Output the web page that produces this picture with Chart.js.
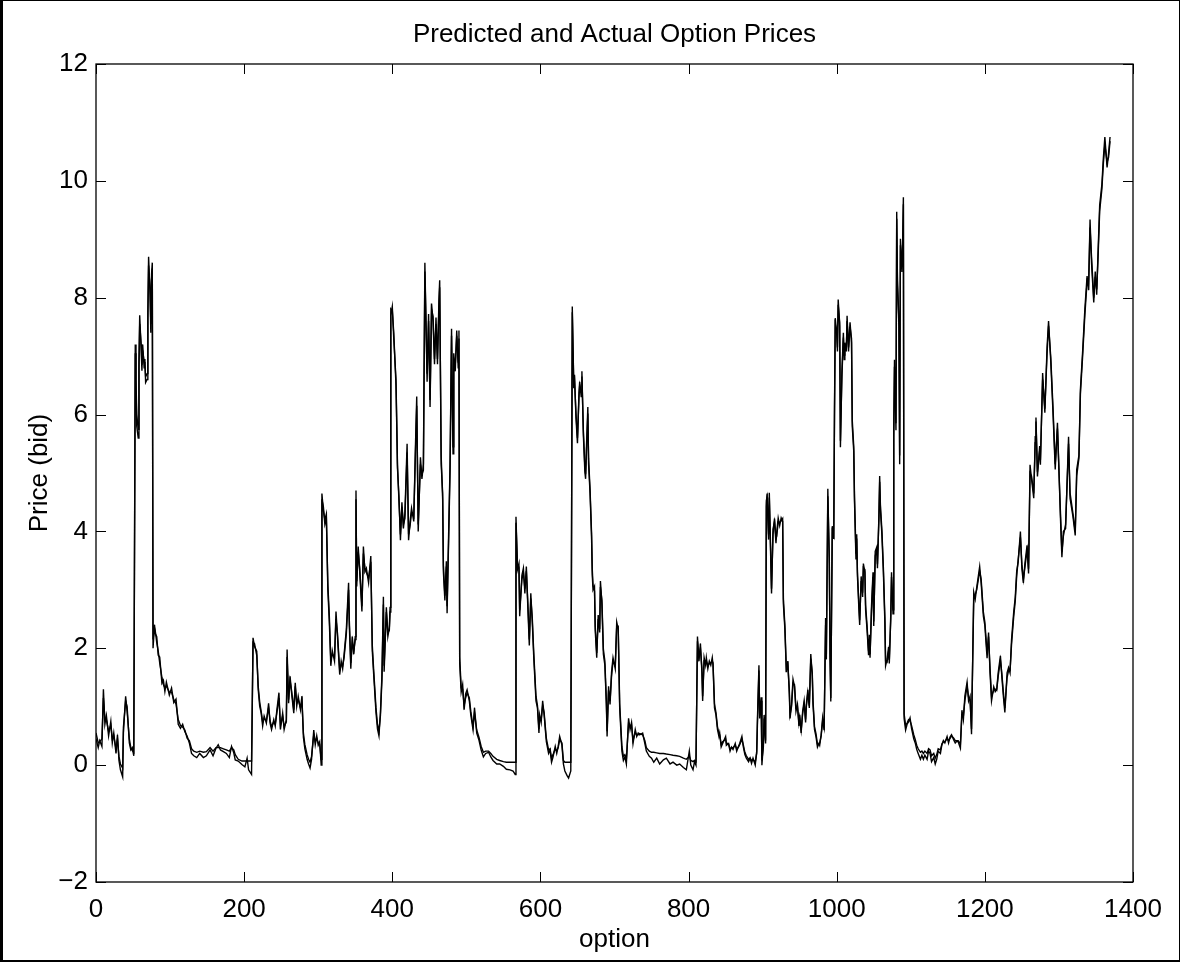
<!DOCTYPE html>
<html>
<head>
<meta charset="utf-8">
<title>Predicted and Actual Option Prices</title>
<script src="https://cdn.jsdelivr.net/npm/chart.js@4.4.1/dist/chart.umd.min.js"></script>
<style>
  html, body { margin: 0; padding: 0; background: #fff; }
  #wrap { position: relative; width: 1180px; height: 962px; }
  #frame { position: absolute; left: 0; top: 0; width: 1180px; height: 962px; box-sizing: border-box;
           border: solid #000; border-width: 1px 1px 2px 3px; pointer-events: none; }
</style>
</head>
<body>
<div id="wrap">
  <canvas id="priceChart"></canvas>
  <div id="frame"></div>
</div>
<script>
// Option index (x)
const optionIdx = [
  0,3,5,8,10,12,14,17,20,22,
  24,27,29,31,33,36,37,40,42,45,
  47,49,51,53,54,55,57,58,59,61,
  62,63,65,66,67,69,70,71,73,74,
  75,76,77,79,80,82,84,86,89,91,
  93,95,99,102,105,108,111,114,117,120,
  123,126,129,132,136,140,145,149,154,158,
  162,165,168,172,176,180,183,186,188,192,
  197,201,204,206,210,212,214,217,219,221,
  223,225,227,230,233,235,237,240,242,244,
  247,249,252,254,257,258,260,262,264,267,
  269,271,273,276,278,280,282,285,287,289,
  291,294,296,298,300,302,304,305,307,309,
  311,313,315,317,319,322,324,326,329,331,
  333,335,338,341,342,344,346,348,350,351,
  352,354,356,359,361,363,365,368,371,373,
  375,378,380,382,384,386,388,389,392,394,
  396,397,398,400,402,405,406,407,409,411,
  413,415,417,420,422,424,426,429,431,433,
  435,438,440,442,444,447,449,451,453,455,
  457,459,461,463,464,466,468,469,471,473,
  474,476,478,480,482,483,485,487,489,490,
  491,493,495,497,499,501,504,506,509,511,
  514,517,520,523,526,530,533,536,541,545,
  550,554,559,563,566,567,569,571,572,575,
  577,579,581,583,585,587,589,591,594,596,
  598,599,601,603,605,607,608,611,613,615,
  617,620,622,624,626,629,631,633,636,638,
  641,643,645,646,648,650,652,653,655,656,
  658,660,661,662,664,665,667,669,670,671,
  673,674,676,678,680,681,683,685,687,689,
  690,692,694,696,698,701,703,705,707,710,
  712,714,716,719,721,723,725,728,730,732,
  734,738,741,743,747,750,753,757,761,766,
  770,775,779,784,788,793,797,801,803,806,
  808,810,812,814,816,818,819,821,823,824,
  826,828,830,832,833,835,837,839,841,842,
  844,846,848,850,851,854,856,858,860,863,
  865,867,869,872,874,876,878,881,883,885,
  887,890,892,893,895,896,898,899,901,902,
  904,905,906,908,909,910,912,914,916,918,
  919,921,923,925,927,928,930,932,934,936,
  937,939,941,943,945,947,949,950,952,954,
  956,958,959,961,963,965,967,968,970,972,
  974,976,977,979,981,983,985,986,988,990,
  991,992,994,996,997,998,1000,1001,1002,1004,
  1005,1007,1009,1010,1011,1013,1014,1016,1017,1018,
  1020,1021,1023,1024,1026,1027,1028,1030,1031,1033,
  1035,1036,1038,1039,1041,1043,1044,1045,1047,1049,
  1050,1052,1054,1055,1057,1058,1059,1061,1063,1065,
  1066,1068,1070,1071,1073,1074,1076,1077,1078,1080,
  1081,1082,1084,1085,1086,1088,1089,1090,1091,1093,
  1095,1097,1099,1101,1104,1106,1108,1110,1113,1115,
  1117,1119,1122,1124,1126,1128,1131,1133,1135,1137,
  1140,1142,1144,1146,1149,1151,1153,1155,1158,1160,
  1162,1164,1167,1169,1171,1173,1176,1178,1180,1182,
  1185,1187,1189,1193,1195,1198,1200,1203,1205,1207,
  1209,1212,1214,1216,1218,1221,1223,1225,1227,1230,
  1232,1234,1236,1239,1241,1243,1245,1248,1250,1252,
  1254,1257,1259,1261,1263,1266,1268,1269,1271,1274,
  1275,1278,1281,1284,1286,1289,1292,1295,1298,1302,
  1304,1306,1309,1313,1315,1319,1322,1324,1327,1329,
  1332,1335,1338,1340,1342,1344,1347,1349,1351,1353,
  1355,1358,1360,1362,1365,1367,1369
];

// Actual bid price
const actualPrice = [
  0.45,0.30,0.42,0.32,1.30,0.70,0.85,0.50,0.75,0.38,
  0.55,0.20,0.52,0.08,-0.08,-0.20,0.65,1.10,1.00,0.38,
  0.26,0.30,0.16,7.20,6.50,5.80,5.60,6.90,7.70,7.10,
  6.75,7.20,6.80,6.95,6.55,6.60,7.75,8.70,8.05,7.40,
  8.40,8.60,2.00,2.40,2.25,2.20,1.88,1.85,1.40,1.45,
  1.26,1.42,1.20,1.32,1.07,1.13,0.70,0.63,0.70,0.57,
  0.50,0.38,0.20,0.16,0.13,0.20,0.13,0.16,0.26,0.16,
  0.29,0.35,0.26,0.23,0.20,0.13,0.32,0.21,0.09,0.07,
  0.01,-0.03,0.12,-0.08,-0.16,2.18,2.03,1.95,1.29,1.01,
  0.89,0.67,0.84,0.72,1.06,0.72,0.61,0.78,0.67,0.92,
  1.24,0.61,0.89,0.61,0.78,1.98,1.06,1.52,1.24,0.89,
  1.41,1.01,1.18,0.95,1.18,0.48,0.28,0.10,0.02,-0.05,
  0.10,0.60,0.35,0.50,0.34,0.40,0.00,4.65,4.35,4.20,
  4.30,3.00,2.45,1.70,1.96,1.78,2.63,2.20,1.55,1.78,
  1.65,1.90,2.33,3.12,2.39,1.65,2.20,1.90,2.20,4.70,
  3.06,3.74,3.31,2.63,3.74,3.31,3.37,3.12,3.58,1.96,
  1.53,0.90,0.62,0.50,0.90,1.53,2.88,1.60,2.70,2.20,
  2.35,2.70,7.81,7.78,7.40,6.50,5.82,5.08,4.60,3.85,
  4.50,4.05,4.30,5.50,3.85,4.17,4.40,4.17,5.33,6.31,
  4.00,5.27,4.90,5.15,8.60,6.56,7.72,6.13,7.90,7.60,
  6.86,7.66,6.86,7.97,8.30,5.15,4.66,3.31,2.82,3.49,
  2.60,3.92,5.15,7.47,5.33,7.05,6.74,7.44,6.80,7.44,
  1.75,1.25,1.38,0.95,1.22,1.29,1.10,0.86,0.61,0.98,
  0.55,0.43,0.26,0.14,0.20,0.22,0.14,0.08,0.02,0.02,
  -0.02,-0.07,-0.08,-0.10,-0.16,4.25,3.35,3.45,2.55,3.25,
  3.37,2.94,3.40,2.70,2.05,2.94,2.45,1.84,1.10,0.98,
  0.55,0.86,0.73,1.10,0.86,0.55,0.40,0.20,0.26,0.05,
  0.14,0.32,0.20,0.32,0.49,0.35,0.02,-0.10,-0.18,-0.22,
  -0.10,7.85,6.45,6.68,5.94,5.51,6.37,6.56,6.31,6.74,
  5.64,5.02,4.90,5.39,6.13,5.15,4.66,3.92,3.25,3.00,
  3.06,2.30,1.84,2.57,2.27,3.15,2.76,1.90,1.71,1.04,
  0.49,1.35,1.04,1.59,1.84,1.65,2.45,2.33,0.98,0.24,
  0.08,0.14,0.02,0.80,0.61,0.73,0.37,0.61,0.49,0.55,
  0.52,0.55,0.37,0.24,0.15,0.12,0.05,0.12,0.02,0.09,
  0.12,0.02,0.05,0.00,0.02,-0.04,-0.08,0.24,0.00,-0.08,
  0.06,0.00,2.20,1.78,2.08,1.59,1.10,1.84,1.71,1.84,
  1.65,1.78,1.71,1.84,1.71,0.98,0.86,0.61,0.49,0.55,
  0.31,0.37,0.43,0.49,0.34,0.37,0.24,0.31,0.27,0.37,
  0.24,0.31,0.37,0.49,0.31,0.18,0.12,0.06,0.12,0.03,
  0.12,0.00,0.24,0.80,1.71,0.80,1.16,0.00,0.37,0.86,
  0.37,4.53,4.59,3.86,4.66,4.04,2.94,4.04,4.17,3.80,
  3.98,4.23,4.10,4.23,4.17,2.76,2.33,1.59,1.78,1.22,
  0.80,1.04,1.47,1.35,0.92,1.04,0.67,0.86,0.55,0.92,
  1.10,0.73,1.04,1.29,0.98,1.90,1.53,1.04,0.61,0.49,
  0.31,0.37,0.34,0.52,0.81,0.60,2.52,1.81,4.73,3.45,
  1.81,1.09,4.09,3.87,6.09,7.65,7.37,7.08,7.97,7.51,
  5.44,6.73,7.40,6.94,7.23,7.08,7.69,7.08,7.37,7.58,
  7.23,5.80,5.37,4.52,3.52,3.95,3.23,2.66,2.40,3.23,
  2.88,3.45,3.30,2.66,2.31,1.88,2.23,1.84,2.73,3.30,
  2.38,3.66,3.73,3.37,4.30,4.95,4.37,3.95,3.30,2.45,
  1.70,1.81,2.02,1.74,2.59,3.30,2.59,5.73,6.94,5.73,
  9.47,8.22,7.51,5.15,9.01,8.44,8.94,9.72,0.80,0.60,
  0.70,0.74,0.81,0.63,0.45,0.38,0.27,0.20,0.10,0.17,
  0.10,0.17,0.10,0.24,0.20,0.06,0.13,0.02,0.10,0.24,
  0.20,0.35,0.42,0.38,0.49,0.38,0.48,0.52,0.43,0.38,
  0.41,0.40,0.29,0.94,0.78,1.18,1.42,1.10,1.18,0.53,
  2.96,2.84,3.04,3.40,3.12,2.55,2.39,1.83,2.27,1.58,
  1.10,1.34,1.26,1.30,1.58,1.87,1.50,1.18,0.90,1.58,
  1.67,1.58,2.14,2.63,2.87,3.32,3.48,4.00,3.36,3.12,
  3.44,3.76,3.28,5.14,4.90,4.57,5.62,5.95,4.94,5.46,
  5.14,6.71,6.03,7.16,7.60,6.90,6.03,5.06,5.86,4.25,
  3.56,4.00,4.05,5.62,4.57,4.25,3.93,5.06,5.30,6.43,
  7.08,7.80,8.37,8.13,9.34,8.60,7.92,8.45,8.05,8.85,
  9.58,9.94,10.39,10.75,10.23,10.47,10.75
];

// Predicted bid price
const predictedPrice = [
  0.55,0.38,0.40,0.45,1.15,0.80,0.78,0.58,0.68,0.45,
  0.50,0.28,0.45,0.15,0.02,-0.05,0.55,1.18,0.92,0.45,
  0.30,0.25,0.22,7.05,6.60,6.00,5.75,6.80,7.55,7.20,
  6.85,7.10,6.90,6.85,6.65,6.70,7.60,8.55,8.15,7.55,
  8.30,8.50,2.15,2.35,2.30,2.10,1.95,1.75,1.50,1.38,
  1.32,1.35,1.25,1.25,1.12,1.05,0.78,0.68,0.65,0.60,
  0.46,0.42,0.28,0.24,0.22,0.24,0.22,0.23,0.30,0.24,
  0.30,0.30,0.30,0.28,0.26,0.24,0.30,0.26,0.18,0.10,
  0.07,0.07,0.07,0.07,0.07,2.10,2.08,1.88,1.35,1.08,
  0.92,0.74,0.80,0.76,0.98,0.76,0.66,0.74,0.70,0.88,
  1.15,0.68,0.84,0.66,0.74,1.85,1.12,1.45,1.28,0.95,
  1.35,1.06,1.12,0.98,1.10,0.55,0.35,0.18,0.10,0.05,
  0.15,0.52,0.40,0.46,0.38,0.36,0.10,4.55,4.42,4.12,
  4.22,3.10,2.55,1.80,1.90,1.85,2.50,2.26,1.62,1.72,
  1.70,1.85,2.25,3.00,2.48,1.75,2.12,1.96,2.15,4.55,
  3.15,3.65,3.38,2.72,3.62,3.38,3.30,3.20,3.48,2.05,
  1.60,0.98,0.70,0.58,0.85,1.45,2.75,1.70,2.62,2.28,
  2.30,2.62,7.70,7.85,7.30,6.60,5.90,5.15,4.52,3.95,
  4.42,4.12,4.22,5.35,3.95,4.10,4.32,4.25,5.20,6.15,
  4.12,5.15,4.98,5.05,8.45,6.70,7.60,6.25,7.80,7.68,
  6.95,7.55,6.95,7.85,8.18,5.30,4.55,3.42,2.90,3.40,
  2.72,3.80,5.05,7.35,5.45,6.95,6.85,7.35,6.90,7.30,
  1.85,1.32,1.30,1.02,1.15,1.24,1.15,0.92,0.66,0.90,
  0.60,0.48,0.32,0.22,0.24,0.24,0.20,0.15,0.10,0.08,
  0.06,0.05,0.05,0.05,0.05,4.15,3.45,3.38,2.65,3.18,
  3.30,3.02,3.32,2.78,2.15,2.85,2.52,1.92,1.18,1.02,
  0.62,0.80,0.78,1.02,0.90,0.60,0.46,0.26,0.28,0.12,
  0.18,0.28,0.24,0.30,0.44,0.38,0.08,0.05,0.05,0.05,
  0.05,7.75,6.55,6.60,6.02,5.60,6.28,6.50,6.38,6.65,
  5.72,5.10,4.98,5.30,6.02,5.25,4.72,3.98,3.35,3.08,
  2.98,2.38,1.92,2.50,2.33,3.05,2.82,1.98,1.78,1.10,
  0.58,1.28,1.10,1.52,1.78,1.70,2.38,2.38,1.05,0.32,
  0.15,0.18,0.10,0.72,0.66,0.70,0.42,0.56,0.52,0.52,
  0.54,0.52,0.42,0.30,0.24,0.22,0.22,0.21,0.20,0.20,
  0.19,0.18,0.17,0.16,0.15,0.12,0.10,0.15,0.08,0.06,
  0.08,0.06,2.12,1.85,2.00,1.66,1.18,1.78,1.76,1.78,
  1.70,1.74,1.75,1.78,1.75,1.05,0.90,0.66,0.54,0.52,
  0.36,0.40,0.42,0.45,0.38,0.36,0.28,0.30,0.30,0.34,
  0.28,0.30,0.35,0.44,0.34,0.22,0.16,0.10,0.12,0.08,
  0.10,0.05,0.20,0.72,1.62,0.88,1.10,0.08,0.32,0.80,
  0.42,4.42,4.65,3.95,4.58,4.12,3.02,3.95,4.22,3.88,
  3.92,4.16,4.15,4.18,4.22,2.85,2.40,1.65,1.72,1.30,
  0.86,1.00,1.40,1.38,0.98,1.00,0.72,0.82,0.60,0.88,
  1.05,0.78,1.00,1.24,1.02,1.82,1.58,1.10,0.66,0.54,
  0.36,0.36,0.38,0.50,0.76,0.64,2.40,1.90,4.60,3.55,
  1.90,1.15,4.00,3.92,5.95,7.55,7.45,7.15,7.88,7.58,
  5.55,6.65,7.32,7.02,7.16,7.12,7.60,7.15,7.30,7.50,
  7.30,5.90,5.45,4.60,3.62,3.88,3.30,2.74,2.48,3.15,
  2.95,3.38,3.35,2.74,2.38,1.95,2.16,1.90,2.65,3.22,
  2.46,3.58,3.68,3.44,4.22,4.85,4.45,4.02,3.38,2.54,
  1.78,1.76,1.95,1.80,2.50,3.22,2.66,5.60,6.82,5.85,
  9.35,8.30,7.60,5.30,8.90,8.52,8.85,9.60,0.88,0.68,
  0.72,0.78,0.76,0.68,0.52,0.44,0.34,0.28,0.22,0.24,
  0.20,0.24,0.20,0.28,0.26,0.16,0.20,0.12,0.18,0.28,
  0.26,0.36,0.40,0.40,0.46,0.42,0.46,0.50,0.46,0.42,
  0.42,0.42,0.36,0.85,0.84,1.10,1.35,1.16,1.12,0.62,
  2.85,2.92,3.00,3.32,3.18,2.62,2.45,1.92,2.20,1.65,
  1.18,1.28,1.30,1.28,1.52,1.80,1.56,1.25,0.98,1.50,
  1.62,1.62,2.06,2.55,2.80,3.24,3.52,3.90,3.44,3.18,
  3.38,3.68,3.36,5.00,4.95,4.65,5.52,5.88,5.02,5.38,
  5.22,6.60,6.10,7.05,7.52,6.98,6.12,5.15,5.76,4.35,
  3.65,3.92,4.12,5.50,4.66,4.30,4.00,4.95,5.25,6.35,
  7.00,7.70,8.28,8.20,9.20,8.70,8.00,8.36,8.14,8.75,
  9.48,9.86,10.30,10.62,10.32,10.40,10.68
];

const xTickValues = [0, 200, 400, 600, 800, 1000, 1200, 1400];
const yTickValues = [-2, 0, 2, 4, 6, 8, 10, 12];

if (actualPrice.length !== optionIdx.length || predictedPrice.length !== optionIdx.length) {
    throw new Error('length mismatch: ' + optionIdx.length + ' / ' + actualPrice.length + ' / ' + predictedPrice.length);
}

const FONT = '"Liberation Sans", Arial, Helvetica, sans-serif';
const toPoints = (ys) => optionIdx.map((x, i) => ({ x: x, y: ys[i] }));
const minusSign = (v) => (v < 0 ? '\u2212' + Math.abs(v) : String(v));

// box round the axes, inward ticks on all four sides, title and axis labels
const matlabAxes = {
    id: 'matlabAxes',
    afterDraw(chart) {
        const { ctx, chartArea: a, scales } = chart;
        const tick = 10;
        ctx.save();
        ctx.strokeStyle = '#000';
        ctx.lineWidth = 1.3;
        ctx.strokeRect(a.left, a.top, a.right - a.left, a.bottom - a.top);
        ctx.lineWidth = 1;
        ctx.beginPath();
        xTickValues.forEach(v => {
            const px = Math.round(scales.x.getPixelForValue(v)) + 0.5;
            ctx.moveTo(px, a.bottom); ctx.lineTo(px, a.bottom - tick);
            ctx.moveTo(px, a.top); ctx.lineTo(px, a.top + tick);
        });
        yTickValues.forEach(v => {
            const py = Math.round(scales.y.getPixelForValue(v)) + 0.5;
            ctx.moveTo(a.left, py); ctx.lineTo(a.left + tick, py);
            ctx.moveTo(a.right, py); ctx.lineTo(a.right - tick, py);
        });
        ctx.stroke();

        ctx.fillStyle = '#000';
        ctx.font = '26px ' + FONT;
        ctx.textAlign = 'center';
        ctx.textBaseline = 'alphabetic';
        const cx = (a.left + a.right) / 2;
        ctx.fillText('Predicted and Actual Option Prices', cx, 42);
        ctx.fillText('option', cx, 947);
        ctx.translate(47, (a.top + a.bottom) / 2);
        ctx.rotate(-Math.PI / 2);
        ctx.fillText('Price (bid)', 0, 0);
        ctx.restore();
    }
};

const ctx = document.getElementById('priceChart').getContext('2d');
new Chart(ctx, {
    type: 'line',
    data: {
        datasets: [
            {
                label: 'Actual',
                data: toPoints(actualPrice),
                borderColor: '#000',
                borderWidth: 1.4,
                pointRadius: 0,
                fill: false,
                tension: 0
            },
            {
                label: 'Predicted',
                data: toPoints(predictedPrice),
                borderColor: '#000',
                borderWidth: 1.4,
                pointRadius: 0,
                fill: false,
                tension: 0
            }
        ]
    },
    options: {
        responsive: true,
        maintainAspectRatio: false,
        animation: false,
        events: [],
        layout: { padding: { left: 0, top: 64, right: 47, bottom: 0 } },
        plugins: {
            legend: { display: false },
            tooltip: { enabled: false },
            title: { display: false }
        },
        scales: {
            x: {
                type: 'linear',
                min: 0,
                max: 1400,
                afterBuildTicks: (s) => { s.ticks = xTickValues.map(v => ({ value: v })); },
                afterFit: (s) => { s.height = 80; },
                ticks: { color: '#000', font: { size: 26, family: FONT }, padding: 12, maxRotation: 0, autoSkip: false,
                         callback: (v) => String(v) },
                grid: { display: false, drawTicks: false },
                border: { display: false }
            },
            y: {
                type: 'linear',
                min: -2,
                max: 12,
                afterBuildTicks: (s) => { s.ticks = yTickValues.map(v => ({ value: v })); },
                afterFit: (s) => { s.width = 96; },
                ticks: { color: '#000', font: { size: 26, family: FONT }, padding: 8, callback: minusSign, autoSkip: false },
                grid: { display: false, drawTicks: false },
                border: { display: false }
            }
        }
    },
    plugins: [matlabAxes]
});
</script>
</body>
</html>
